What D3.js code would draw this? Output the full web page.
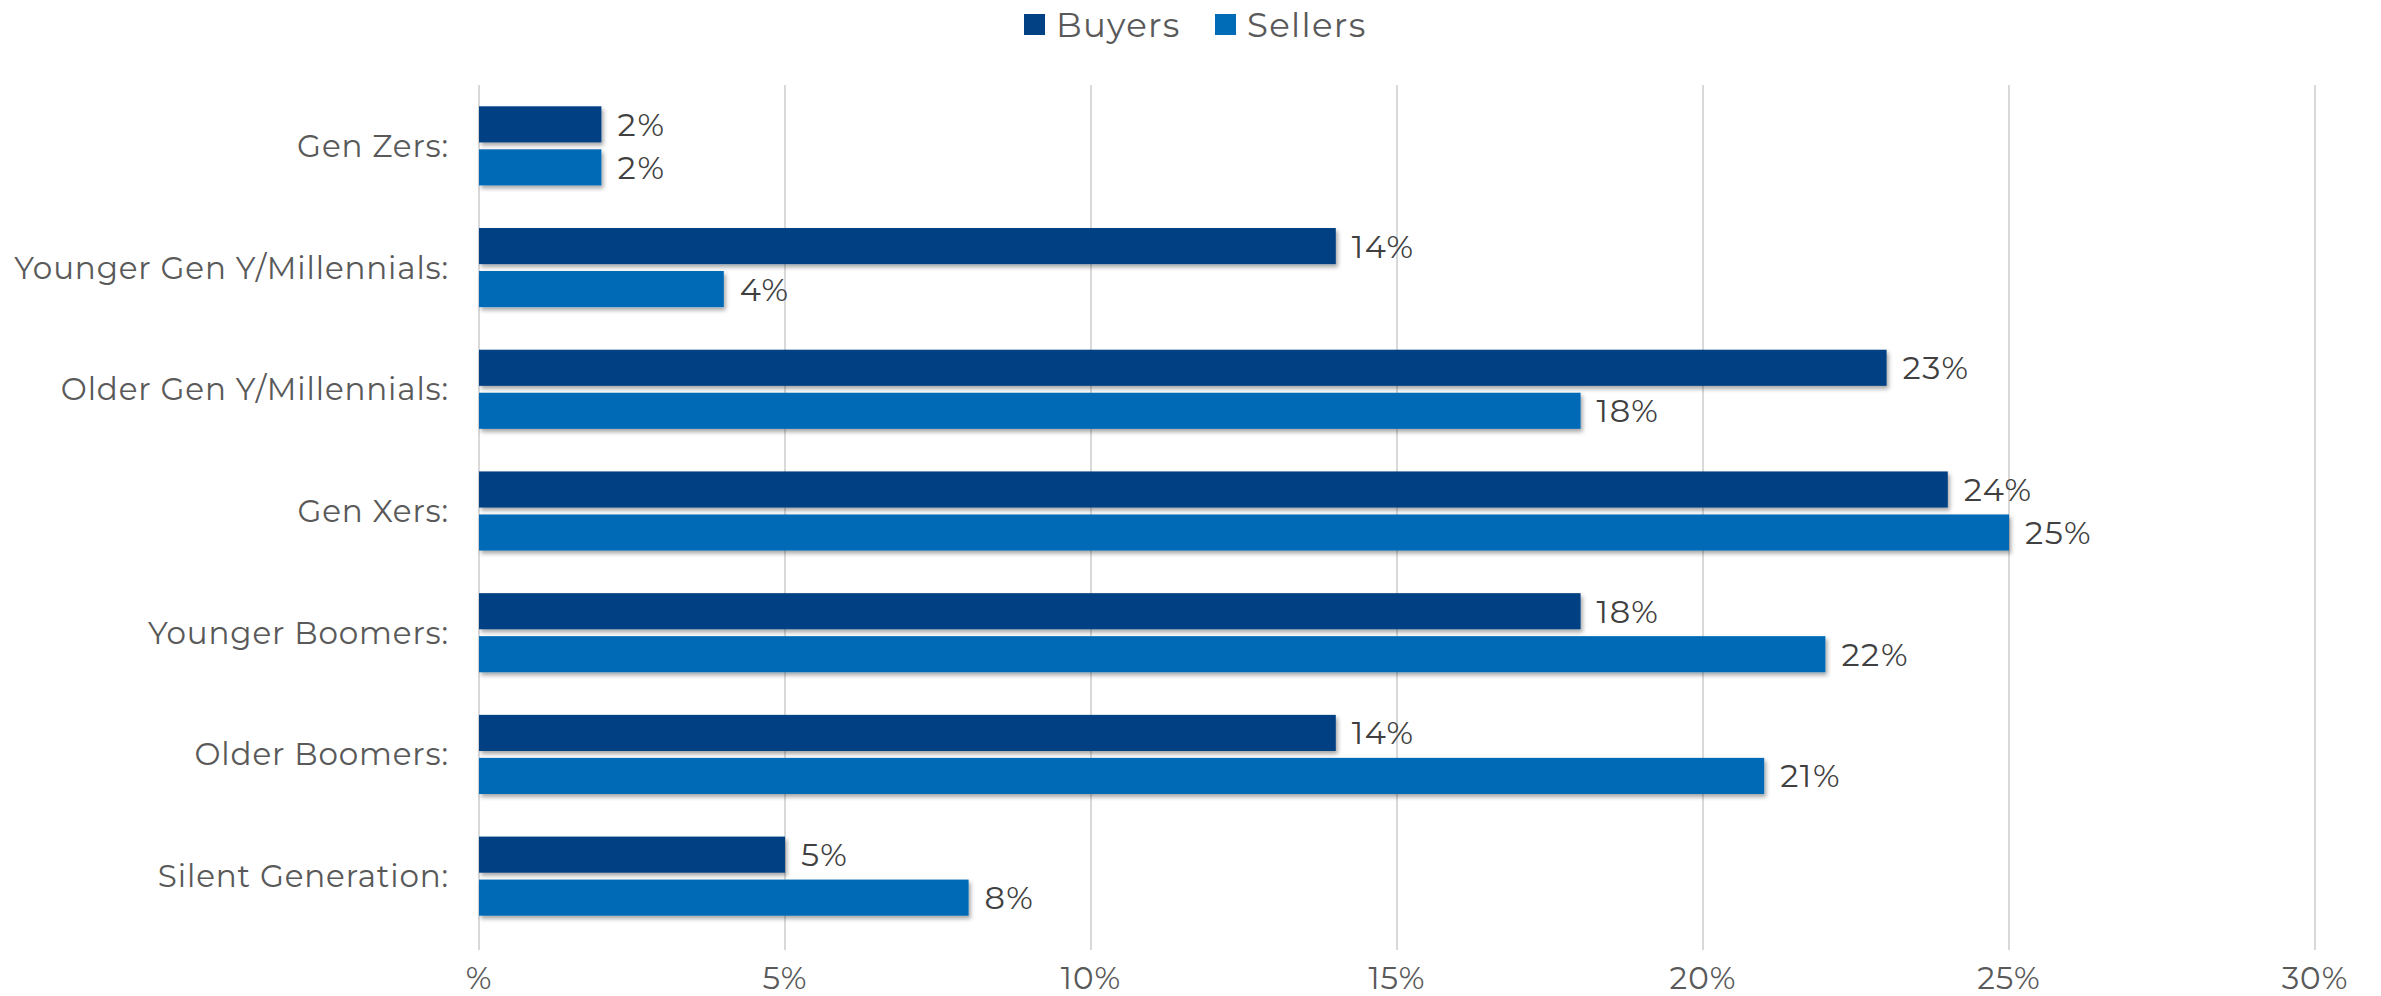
<!DOCTYPE html>
<html>
<head>
<meta charset="utf-8">
<script src="https://cdn.jsdelivr.net/npm/d3@7"></script>
<style>
  html, body { margin: 0; padding: 0; background: #fff; }
  svg { display: block; }
  text { font-family: Montserrat, Inter, "Open Sans", sans-serif; }
</style>
</head>
<body>
<svg id="chart" width="2381" height="996"></svg>
<script>
const categories = ["Gen Zers:", "Younger Gen Y/Millennials:", "Older Gen Y/Millennials:", "Gen Xers:", "Younger Boomers:", "Older Boomers:", "Silent Generation:"];
const seriesNames = ["Buyers", "Sellers"];
const buyers = [2, 14, 23, 24, 18, 14, 5];
const sellers = [2, 4, 18, 25, 22, 21, 8];
const tickValues = [0, 5, 10, 15, 20, 25, 30];
const tickLabels = ["%", "5%", "10%", "15%", "20%", "25%", "30%"];
const colors = ["#024183", "#006BB6"];

const svg = d3.select("#chart");

const x = d3.scaleLinear().domain([0, 30]).range([479, 2315]);
const y = d3.scaleBand().domain(categories).range([85, 937]).paddingInner(0.35).paddingOuter(0.175);
const sub = d3.scaleBand().domain(seriesNames).range([0, y.bandwidth()]).paddingInner(0.16);

const defs = svg.append("defs");
const f = defs.append("filter").attr("id", "shadow").attr("x", "-5%").attr("y", "-30%").attr("width", "110%").attr("height", "170%");
f.append("feDropShadow").attr("dx", 2).attr("dy", 3).attr("stdDeviation", 2.2).attr("flood-color", "#000").attr("flood-opacity", 0.35);

// gridlines
svg.append("g").selectAll("line").data(tickValues).join("line")
  .attr("x1", d => x(d)).attr("x2", d => x(d))
  .attr("y1", 85).attr("y2", 950)
  .attr("stroke", "#D9D9D9").attr("stroke-width", 2);

// x tick labels
svg.append("g").selectAll("text").data(tickValues).join("text")
  .attr("x", d => x(d)).attr("y", 978)
  .attr("text-anchor", "middle").attr("dominant-baseline", "central")
  .attr("font-size", 31).attr("letter-spacing", 1).attr("fill", "#595959")
  .text((d, i) => tickLabels[i]);

// category labels
svg.append("g").selectAll("text").data(categories).join("text")
  .attr("x", 449).attr("y", d => y(d) + y.bandwidth() / 2)
  .attr("text-anchor", "end").attr("dominant-baseline", "central")
  .attr("font-size", 31).attr("letter-spacing", 0.85).attr("fill", "#595959")
  .text(d => d);

const rows = categories.map((c, i) => ({ c, vals: [buyers[i], sellers[i]] }));

const groups = svg.append("g").selectAll("g").data(rows).join("g")
  .attr("transform", d => `translate(0,${y(d.c)})`);

groups.selectAll("rect").data(d => d.vals.map((v, j) => ({ v, s: seriesNames[j], j }))).join("rect")
  .attr("x", x(0)).attr("y", d => sub(d.s))
  .attr("width", d => x(d.v) - x(0)).attr("height", sub.bandwidth())
  .attr("fill", d => colors[d.j])
  .attr("filter", "url(#shadow)");

groups.selectAll("text").data(d => d.vals.map((v, j) => ({ v, s: seriesNames[j], j }))).join("text")
  .attr("x", d => x(d.v) + 16).attr("y", d => sub(d.s) + sub.bandwidth() / 2)
  .attr("dominant-baseline", "central")
  .attr("font-size", 32).attr("letter-spacing", 1.5).attr("fill", "#404040")
  .text(d => d.v + "%");

// legend
const legend = svg.append("g");
const legendX = [1024, 1215];
seriesNames.forEach((s, i) => {
  legend.append("rect").attr("x", legendX[i]).attr("y", 14).attr("width", 21).attr("height", 21).attr("fill", colors[i]);
  legend.append("text").attr("x", legendX[i] + 32).attr("y", 25)
    .attr("dominant-baseline", "central").attr("font-size", 34).attr("letter-spacing", 1.3)
    .attr("fill", "#595959").text(s);
});
</script>
</body>
</html>
